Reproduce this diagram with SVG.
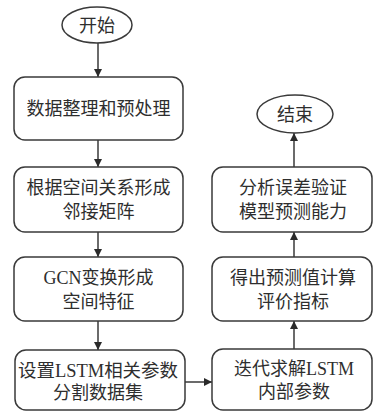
<svg xmlns="http://www.w3.org/2000/svg" width="374" height="413" viewBox="0 0 374 413">
<defs>
<style>
.bg{fill:#ffffff}
.shape{fill:#ffffff;stroke:#3a3a3a;stroke-width:1.5}
.t{font-family:"Liberation Serif","Noto Sans CJK SC",serif;font-size:18px;fill:#2e2e2e;text-anchor:middle}
.line{stroke:#3a3a3a;stroke-width:1.5;fill:none}
</style>
<marker id="ah" viewBox="0 0 10 10" refX="10" refY="5" markerWidth="8" markerHeight="8" markerUnits="userSpaceOnUse" orient="auto">
<path d="M0,0 L10,5 L0,10 z" fill="#2a2a2a"/>
</marker>
</defs>
<rect class="bg" x="0" y="0" width="374" height="413"/>
<g id="connectors">
<line class="line" x1="98" y1="43" x2="98" y2="77" marker-end="url(#ah)"/>
<line class="line" x1="98" y1="140" x2="98" y2="167" marker-end="url(#ah)"/>
<line class="line" x1="98" y1="232" x2="98" y2="257" marker-end="url(#ah)"/>
<line class="line" x1="98" y1="321" x2="98" y2="350" marker-end="url(#ah)"/>
<line class="line" x1="185" y1="382" x2="212" y2="382" marker-end="url(#ah)"/>
<line class="line" x1="294" y1="349" x2="294" y2="321" marker-end="url(#ah)"/>
<line class="line" x1="294" y1="257" x2="294" y2="232" marker-end="url(#ah)"/>
<line class="line" x1="294" y1="167" x2="294" y2="133" marker-end="url(#ah)"/>
</g>
<g id="start">
<ellipse class="shape" cx="97" cy="25" rx="35" ry="18"/>
<text class="t" x="97" y="31.5">开始</text>
</g>
<g id="n1">
<rect class="shape" x="14" y="77" width="169" height="63" rx="11"/>
<text class="t" x="98.5" y="115">数据整理和预处理</text>
</g>
<g id="n2">
<rect class="shape" x="14" y="167" width="169" height="65" rx="11"/>
<text class="t" x="98.5" y="194">根据空间关系形成</text>
<text class="t" x="98.5" y="218">邻接矩阵</text>
</g>
<g id="n3">
<rect class="shape" x="14" y="257" width="169" height="64" rx="11"/>
<text class="t" x="98.5" y="284">GCN变换形成</text>
<text class="t" x="98.5" y="308">空间特征</text>
</g>
<g id="n4">
<rect class="shape" x="15" y="350" width="170" height="60" rx="11"/>
<text class="t" x="98" y="377" textLength="160" lengthAdjust="spacingAndGlyphs">设置LSTM相关参数</text>
<text class="t" x="98" y="399">分割数据集</text>
</g>
<g id="n5">
<rect class="shape" x="212" y="349" width="160" height="61" rx="11"/>
<text class="t" x="294" y="375">迭代求解LSTM</text>
<text class="t" x="294" y="398">内部参数</text>
</g>
<g id="n6">
<rect class="shape" x="212" y="257" width="160" height="64" rx="11"/>
<text class="t" x="293" y="284">得出预测值计算</text>
<text class="t" x="293" y="308">评价指标</text>
</g>
<g id="n7">
<rect class="shape" x="212" y="167" width="160" height="65" rx="11"/>
<text class="t" x="293" y="194">分析误差验证</text>
<text class="t" x="293" y="218">模型预测能力</text>
</g>
<g id="end">
<ellipse class="shape" cx="295" cy="114" rx="38" ry="19"/>
<text class="t" x="295" y="120.5">结束</text>
</g>
</svg>
